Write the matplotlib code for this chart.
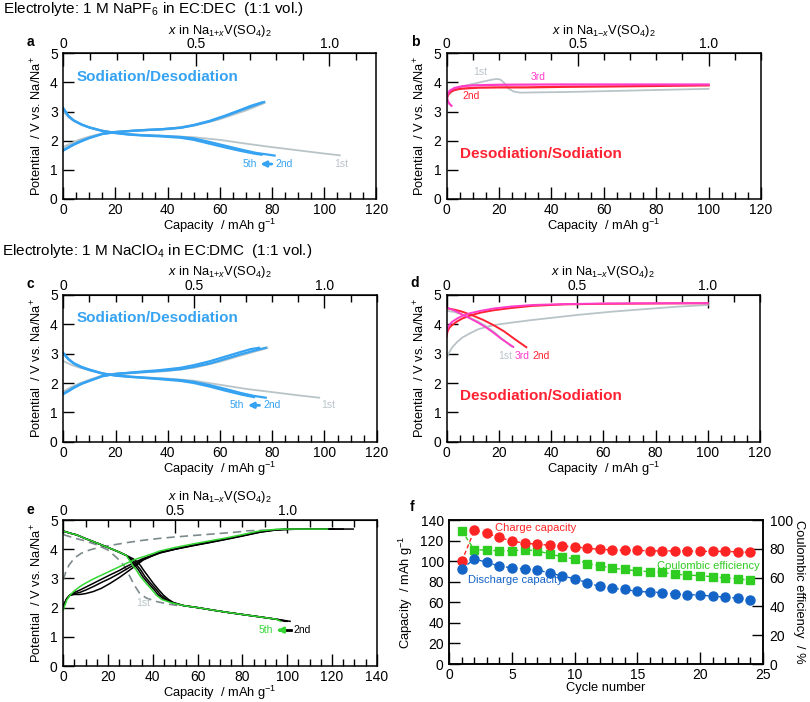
import matplotlib
matplotlib.use("Agg")
import matplotlib.pyplot as plt
from matplotlib.ticker import MultipleLocator

plt.rcParams["font.family"] = ["Liberation Sans", "DejaVu Sans"]
plt.rcParams["mathtext.fontset"] = "custom"
plt.rcParams["mathtext.rm"] = "Liberation Sans"
plt.rcParams["mathtext.it"] = "Liberation Sans:italic"
plt.rcParams["mathtext.bf"] = "Liberation Sans:bold"

# ---------------- data: panel a (NaPF6, sodiation first) ----------------
a_dis2_cap = [0, 2, 4, 7, 10, 15, 20, 25, 30, 37, 45, 50, 56, 62, 68, 74, 78, 81]
a_dis2_v = [3.12, 2.85, 2.70, 2.56, 2.46, 2.34, 2.27, 2.22, 2.19, 2.17, 2.13, 2.08, 1.96, 1.83, 1.70, 1.58, 1.53, 1.49]
a_dis5_cap = [0, 2, 4, 7, 10, 15, 20, 25, 30, 37, 45, 50, 56, 62, 68, 73, 76]
a_dis5_v = [3.10, 2.84, 2.69, 2.55, 2.45, 2.33, 2.26, 2.21, 2.18, 2.15, 2.10, 2.03, 1.90, 1.77, 1.65, 1.56, 1.52]
a_ch2_cap = [0, 2, 4, 7, 10, 15, 20, 25, 30, 37, 45, 50, 56, 62, 68, 73, 77]
a_ch2_v = [1.68, 1.78, 1.88, 2.00, 2.10, 2.24, 2.30, 2.33, 2.36, 2.39, 2.44, 2.53, 2.66, 2.84, 3.04, 3.20, 3.33]
a_ch5_cap = [0, 2, 4, 7, 10, 15, 20, 25, 30, 37, 45, 50, 56, 62, 68, 72, 76]
a_ch5_v = [1.66, 1.76, 1.86, 1.98, 2.09, 2.23, 2.29, 2.33, 2.36, 2.39, 2.45, 2.54, 2.68, 2.86, 3.06, 3.20, 3.31]
a_dis1_cap = [0, 2, 4, 7, 10, 15, 20, 30, 40, 50, 60, 70, 80, 90, 100, 106]
a_dis1_v = [3.00, 2.80, 2.68, 2.55, 2.46, 2.35, 2.28, 2.20, 2.16, 2.12, 2.03, 1.90, 1.78, 1.67, 1.56, 1.50]
a_ch1_cap = [0, 3, 6, 10, 15, 20, 30, 40, 50, 60, 70, 77]
a_ch1_v = [1.78, 1.90, 2.02, 2.13, 2.24, 2.30, 2.36, 2.40, 2.52, 2.75, 3.05, 3.30]

# ---------------- data: panel b (NaPF6, desodiation first) ----------------
b_1_cap = [0, 1, 2.5, 5, 7.5, 10, 14, 17, 19, 20.5, 22, 23.5, 25.5, 28, 35, 45, 60, 80, 100]
b_1_v = [3.45, 3.60, 3.72, 3.84, 3.90, 3.95, 4.03, 4.09, 4.12, 4.10, 3.98, 3.80, 3.69, 3.65, 3.66, 3.67, 3.70, 3.74, 3.78]
b_2_cap = [0, 0.5, 1.5, 3, 5, 8, 12, 20, 30, 45, 60, 80, 100]
b_2_v = [3.45, 3.58, 3.68, 3.74, 3.78, 3.80, 3.82, 3.83, 3.83, 3.85, 3.86, 3.88, 3.90]
b_3_cap = [1.8, 1.0, 0.4, 0.1, 0.4, 1.2, 3, 6, 10, 20, 40, 60, 80, 100]
b_3_v = [3.20, 3.27, 3.37, 3.50, 3.62, 3.72, 3.81, 3.87, 3.90, 3.92, 3.93, 3.93, 3.93, 3.93]

# ---------------- data: panel c (NaClO4, sodiation first) ----------------
c_dis2_cap = [0, 2, 4, 7, 10, 15, 20, 25, 30, 37, 45, 50, 56, 62, 68, 73, 77.5]
c_dis2_v = [3.03, 2.82, 2.68, 2.55, 2.46, 2.33, 2.26, 2.22, 2.19, 2.15, 2.10, 2.04, 1.93, 1.80, 1.66, 1.56, 1.50]
c_dis5_cap = [0, 2, 4, 7, 10, 15, 20, 25, 30, 37, 45, 50, 56, 62, 68, 73]
c_dis5_v = [3.00, 2.80, 2.66, 2.53, 2.44, 2.32, 2.25, 2.21, 2.18, 2.13, 2.07, 2.00, 1.88, 1.74, 1.61, 1.52]
c_ch2_cap = [0, 2, 4, 7, 10, 15, 20, 25, 30, 37, 45, 50, 56, 62, 68, 73, 77.5]
c_ch2_v = [1.64, 1.74, 1.85, 1.98, 2.08, 2.24, 2.31, 2.34, 2.37, 2.41, 2.47, 2.55, 2.66, 2.82, 2.98, 3.10, 3.20]
c_ch5_cap = [0, 2, 4, 7, 10, 15, 20, 25, 30, 37, 45, 50, 56, 62, 68, 72, 75]
c_ch5_v = [1.62, 1.72, 1.83, 1.97, 2.07, 2.23, 2.31, 2.35, 2.39, 2.44, 2.52, 2.61, 2.74, 2.90, 3.06, 3.16, 3.20]
c_dis1_cap = [0, 3, 6, 10, 15, 20, 30, 40, 50, 60, 70, 80, 90, 98]
c_dis1_v = [2.75, 2.62, 2.53, 2.44, 2.33, 2.26, 2.20, 2.15, 2.08, 1.94, 1.80, 1.69, 1.58, 1.50]
c_ch1_cap = [0, 3, 6, 10, 15, 20, 30, 40, 50, 60, 70, 78]
c_ch1_v = [1.70, 1.85, 1.97, 2.10, 2.25, 2.31, 2.37, 2.42, 2.53, 2.74, 3.00, 3.20]

# ---------------- data: panel d (NaClO4, desodiation first) ----------------
d_ch1_cap = [0, 1, 2, 4, 6, 9, 12, 16, 20, 25, 32, 40, 50, 63, 76, 88, 100]
d_ch1_v = [2.85, 3.05, 3.20, 3.40, 3.55, 3.70, 3.83, 3.93, 4.00, 4.06, 4.14, 4.22, 4.32, 4.43, 4.52, 4.60, 4.66]
d_dis1_cap = [0, 3, 6, 9, 12, 15, 18, 21, 24.8]
d_dis1_v = [4.46, 4.42, 4.33, 4.22, 4.10, 3.94, 3.75, 3.52, 3.25]
d_ch_cap = [0, 0.3, 1, 2, 4, 6, 9, 13, 18, 25, 33, 45, 60, 80, 100]
d_ch2_v = [3.60, 3.75, 3.88, 3.97, 4.10, 4.20, 4.30, 4.40, 4.48, 4.56, 4.63, 4.68, 4.70, 4.71, 4.72]
d_ch3_v = [3.70, 3.85, 3.98, 4.08, 4.20, 4.29, 4.38, 4.46, 4.54, 4.61, 4.66, 4.69, 4.71, 4.72, 4.72]
d_dis2_cap = [0, 3, 6, 10, 14, 18, 22, 26, 30.5]
d_dis2_v = [4.55, 4.50, 4.43, 4.30, 4.15, 3.97, 3.76, 3.50, 3.22]
d_dis3_cap = [0, 3, 6, 9, 12, 15, 18, 21, 25.5]
d_dis3_v = [4.57, 4.47, 4.33, 4.20, 4.06, 3.90, 3.71, 3.50, 3.23]

# ---------------- data: panel e (desodiation, wide window) ----------------
e_ch_cap = [0, 1.5, 3, 5, 7.4, 10, 13.4, 17, 20.9, 25, 28.3, 32.8, 35.7, 40, 43.2, 50, 58, 65, 73, 80, 87.9, 95, 100, 110]
e_ch2_v = [2.09, 2.30, 2.42, 2.45, 2.45, 2.48, 2.55, 2.66, 2.83, 3.03, 3.21, 3.46, 3.63, 3.78, 3.87, 4.00, 4.12, 4.22, 4.34, 4.45, 4.58, 4.66, 4.68, 4.69]
e_ch3_v = [2.02, 2.30, 2.43, 2.48, 2.52, 2.60, 2.72, 2.86, 3.00, 3.17, 3.32, 3.52, 3.65, 3.78, 3.88, 4.00, 4.13, 4.23, 4.35, 4.46, 4.59, 4.66, 4.68, 4.69]
e_ch4_v = [1.98, 2.30, 2.44, 2.52, 2.60, 2.70, 2.83, 2.97, 3.12, 3.27, 3.41, 3.58, 3.68, 3.80, 3.90, 4.01, 4.14, 4.24, 4.36, 4.47, 4.60, 4.67, 4.68, 4.69]
e_ch5_v = [1.92, 2.25, 2.43, 2.58, 2.72, 2.84, 2.98, 3.11, 3.25, 3.40, 3.52, 3.67, 3.74, 3.85, 3.94, 4.06, 4.18, 4.28, 4.39, 4.50, 4.63, 4.68, 4.69, 4.69]
e_ch_end = [129.5, 125, 121, 118]
e_dis2_cap = [0, 3, 6, 10, 13.4, 17, 20.9, 25, 28.3, 31, 32.8, 34.5, 35.7, 38, 40.2, 42.5, 44.7, 47, 49.2, 53.6, 60, 65.5, 73, 80.4, 88, 95.3, 101.3]
e_dis3_cap = [0, 3, 6, 10, 13.4, 17, 20.9, 25, 28.3, 30, 31.5, 33, 34.5, 36.5, 39, 41.5, 43.5, 46, 49.2, 53.6, 60, 65.5, 73, 80.4, 88, 95.3, 100]
e_dis4_cap = [0, 3, 6, 10, 13.4, 17, 20.9, 25, 28.3, 29.5, 30.5, 32, 33.5, 35.5, 38, 40.5, 42.5, 45, 48.5, 53.6, 60, 65.5, 73, 80.4, 88, 95.3, 99]
e_dis5_cap = [0, 3, 6, 10, 13.4, 17, 20.9, 25, 28.3, 29, 30, 31, 32.5, 34.5, 37, 39.5, 41.5, 44, 48, 53.6, 60, 65.5, 73, 80.4, 88, 95.3, 97]
e_dis_v = [4.62, 4.55, 4.49, 4.36, 4.26, 4.15, 4.03, 3.90, 3.78, 3.68, 3.58, 3.44, 3.30, 3.06, 2.83, 2.62, 2.43, 2.28, 2.17, 2.07, 2.00, 1.93, 1.84, 1.76, 1.68, 1.60, 1.53]
e_ch1_cap = [0, 1, 2.5, 5, 8, 12, 16, 21, 28, 35, 43, 50, 60, 70, 78, 82, 90, 100]
e_ch1_v = [2.95, 3.20, 3.45, 3.70, 3.86, 3.98, 4.06, 4.13, 4.22, 4.30, 4.37, 4.42, 4.48, 4.54, 4.59, 4.63, 4.65, 4.66]
e_dis1_cap = [0, 5, 10, 15, 20, 24, 27, 29.5, 31.5, 34, 37, 42, 47, 52]
e_dis1_v = [4.50, 4.38, 4.28, 4.15, 3.97, 3.70, 3.45, 3.10, 2.80, 2.50, 2.33, 2.20, 2.12, 2.06]

# ---------------- data: panel f (cycling) ----------------
cycles = list(range(1, 25))
charge_cap = [100, 130, 127, 123, 119.5, 117.5, 116.5, 115.5, 114.5, 114, 112.5, 111.5,
              111, 110.5, 110.5, 110, 110, 110, 110, 109.5, 109.5, 109.5, 109, 108.5]
discharge_cap = [92.5, 102, 99, 95, 93.5, 92.5, 91.5, 88.5, 85.5, 83, 79, 75.5,
                 73.5, 72.5, 70.5, 70, 69.5, 68, 67.5, 67, 66, 65, 64, 62.5]
coulombic_eff = [92.4, 79.2, 79.2, 78.5, 78.7, 79.2, 78.7, 76.4, 74.5, 72.9, 69.7, 68.3,
                 66.4, 65.7, 64.6, 64.1, 63.7, 62.3, 61.8, 61.3, 60.6, 59.7, 59.0, 58.3]

# ---------------- colours ----------------
BLUE = "#36a3f2"
GRAY = "#b9c4c8"
RED = "#ff2233"
MAG = "#ff3cc8"
GREEN = "#33d633"
DGRAY = "#7d8a8d"
F_RED = "#ff2424"
F_BLUE = "#1464c8"
F_GREEN = "#2fcc22"

W, H = 810, 702
fig = plt.figure(figsize=(W / 100, H / 100), dpi=100)


def px_axes(left, top, right, bottom):
    return fig.add_axes([left / W, 1 - bottom / H, (right - left) / W, (bottom - top) / H])


def style_voltage(ax, xmax, cap_full, top_label):
    ax.set_xlim(0, xmax)
    ax.set_ylim(0, 5)
    ax.xaxis.set_major_locator(MultipleLocator(20))
    ax.xaxis.set_minor_locator(MultipleLocator(5))
    ax.yaxis.set_major_locator(MultipleLocator(1))
    ax.tick_params(axis="x", which="major", direction="in", length=9, width=1, pad=3, labelsize=10)
    ax.tick_params(axis="x", which="minor", direction="in", length=5, width=1)
    ax.tick_params(axis="y", which="major", direction="in", length=8, width=1, pad=4, labelsize=10)
    for s in ax.spines.values():
        s.set_linewidth(1.1)
    ax.set_xlabel("Capacity  / mAh g$^{-1}$", fontsize=9.3, labelpad=0)
    ax.set_ylabel("Potential  / V vs. Na/Na$^{+}$", fontsize=9.3, labelpad=4)
    sec = ax.secondary_xaxis("top", functions=(lambda c: c / cap_full, lambda x: x * cap_full))
    sec.set_xticks([0, 0.5, 1.0])
    sec.set_xticklabels(["0", "0.5", "1.0"])
    sec.xaxis.set_minor_locator(MultipleLocator(0.1))
    sec.tick_params(axis="x", which="major", direction="in", length=9, width=1, pad=1.5, labelsize=10)
    sec.tick_params(axis="x", which="minor", direction="in", length=5, width=1)
    sec.set_xlabel(top_label, fontsize=9.3, labelpad=2.5)
    return sec


top_plus = r"$x$ in Na$_{1\mathrm{+}x}$V(SO$_4$)$_2$"
top_minus = r"$x$ in Na$_{1\mathrm{-}x}$V(SO$_4$)$_2$"
BIG = 11
SMALL = 7.5

# ---------------- panel a ----------------
ax = px_axes(63.3, 53.3, 376.3, 199)
style_voltage(ax, 120, 102, top_plus)
ax.plot(a_dis1_cap, a_dis1_v, color=GRAY, lw=1.3)
ax.plot(a_ch1_cap, a_ch1_v, color=GRAY, lw=1.8)
ax.plot(a_dis2_cap, a_dis2_v, color=BLUE, lw=1.6)
ax.plot(a_dis5_cap, a_dis5_v, color=BLUE, lw=1.6)
ax.plot(a_ch2_cap, a_ch2_v, color=BLUE, lw=1.6)
ax.plot(a_ch5_cap, a_ch5_v, color=BLUE, lw=1.6)
ax.text(5, 4.2, "Sodiation/Desodiation", color=BLUE, fontsize=BIG, fontweight="bold", va="center")
ax.text(71.5, 1.2, "5th", color=BLUE, fontsize=SMALL, ha="center", va="center")
ax.annotate("", xy=(74.5, 1.2), xytext=(81, 1.2),
            arrowprops=dict(arrowstyle="-|>", color=BLUE, lw=2, mutation_scale=8))
ax.text(81.3, 1.2, "2nd", color=BLUE, fontsize=SMALL, ha="left", va="center")
ax.text(106.5, 1.2, "1st", color=GRAY, fontsize=SMALL, ha="center", va="center")
fig.text(30 / W, 1 - 42 / H, "a", fontsize=10, fontweight="bold", ha="center", va="center")

# ---------------- panel b ----------------
ax = px_axes(446.7, 53.3, 761, 199)
style_voltage(ax, 120, 100, top_minus)
ax.plot(b_1_cap, b_1_v, color=GRAY, lw=1.3)
ax.plot(b_2_cap, b_2_v, color=RED, lw=1.6)
ax.plot(b_3_cap, b_3_v, color=MAG, lw=1.6)
ax.text(5, 1.56, "Desodiation/Sodiation", color=RED, fontsize=BIG, fontweight="bold", va="center")
ax.text(12.7, 4.35, "1st", color=GRAY, fontsize=SMALL, ha="center", va="center")
ax.text(35, 4.2, "3rd", color=MAG, fontsize=SMALL, ha="center", va="center")
ax.text(9.5, 3.55, "2nd", color=RED, fontsize=SMALL, ha="center", va="center")
fig.text(415 / W, 1 - 42 / H, "b", fontsize=10, fontweight="bold", ha="center", va="center")

# ---------------- panel c ----------------
ax = px_axes(63.3, 295, 376.7, 441.7)
style_voltage(ax, 120, 100, top_plus)
ax.plot(c_dis1_cap, c_dis1_v, color=GRAY, lw=1.3)
ax.plot(c_ch1_cap, c_ch1_v, color=GRAY, lw=1.8)
ax.plot(c_dis2_cap, c_dis2_v, color=BLUE, lw=1.6)
ax.plot(c_dis5_cap, c_dis5_v, color=BLUE, lw=1.6)
ax.plot(c_ch2_cap, c_ch2_v, color=BLUE, lw=1.6)
ax.plot(c_ch5_cap, c_ch5_v, color=BLUE, lw=1.6)
ax.text(5, 4.22, "Sodiation/Desodiation", color=BLUE, fontsize=BIG, fontweight="bold", va="center")
ax.text(66.4, 1.24, "5th", color=BLUE, fontsize=SMALL, ha="center", va="center")
ax.annotate("", xy=(69.6, 1.24), xytext=(76.2, 1.24),
            arrowprops=dict(arrowstyle="-|>", color=BLUE, lw=2, mutation_scale=8))
ax.text(76.5, 1.24, "2nd", color=BLUE, fontsize=SMALL, ha="left", va="center")
ax.text(101.5, 1.24, "1st", color=GRAY, fontsize=SMALL, ha="center", va="center")
fig.text(30 / W, 1 - 284 / H, "c", fontsize=10, fontweight="bold", ha="center", va="center")

# ---------------- panel d ----------------
ax = px_axes(446.7, 295, 760, 441.7)
style_voltage(ax, 120, 100, top_minus)
ax.plot(d_ch1_cap, d_ch1_v, color=GRAY, lw=1.3)
ax.plot(d_dis1_cap, d_dis1_v, color=GRAY, lw=1.3)
ax.plot(d_ch_cap, d_ch2_v, color=RED, lw=1.4)
ax.plot(d_dis2_cap, d_dis2_v, color=RED, lw=1.4)
ax.plot(d_ch_cap, d_ch3_v, color=MAG, lw=1.4)
ax.plot(d_dis3_cap, d_dis3_v, color=MAG, lw=1.4)
ax.text(5, 1.56, "Desodiation/Sodiation", color=RED, fontsize=BIG, fontweight="bold", va="center")
ax.text(22.4, 2.93, "1st", color=GRAY, fontsize=SMALL, ha="center", va="center")
ax.text(28.8, 2.93, "3rd", color=MAG, fontsize=SMALL, ha="center", va="center")
ax.text(36, 2.93, "2nd", color=RED, fontsize=SMALL, ha="center", va="center")
fig.text(415 / W, 1 - 283 / H, "d", fontsize=10, fontweight="bold", ha="center", va="center")

# ---------------- panel e ----------------
ax = px_axes(63.3, 520, 376.7, 666)
style_voltage(ax, 140, 100, top_minus)
ax.plot(e_ch1_cap, e_ch1_v, color=DGRAY, lw=1.2, ls=(0, (5, 3)))
ax.plot(e_dis1_cap, e_dis1_v, color=DGRAY, lw=1.2, ls=(0, (5, 3)))
e_ch_v = [e_ch2_v, e_ch3_v, e_ch4_v, e_ch5_v]
e_dis_caps = [e_dis2_cap, e_dis3_cap, e_dis4_cap, e_dis5_cap]
for i in range(4):
    col = GREEN if i == 3 else "black"
    ax.plot(e_ch_cap + [e_ch_end[i]], e_ch_v[i] + [e_ch_v[i][-1]], color=col, lw=1.1)
    ax.plot(e_dis_caps[i], e_dis_v, color=col, lw=1.1)
ax.text(35.9, 2.17, "1st", color=GRAY, fontsize=SMALL, ha="center", va="center")
ax.text(90.6, 1.23, "5th", color=GREEN, fontsize=SMALL, ha="center", va="center")
ax.plot([97, 101.5], [1.23, 1.23], color="black", lw=2)
ax.annotate("", xy=(94.3, 1.23), xytext=(98, 1.23),
            arrowprops=dict(arrowstyle="-|>", color=GREEN, lw=2, mutation_scale=8))
ax.text(102.8, 1.23, "2nd", color="black", fontsize=SMALL, ha="left", va="center")
fig.text(30 / W, 1 - 510 / H, "e", fontsize=10, fontweight="bold", ha="center", va="center")

# ---------------- panel f ----------------
ax = px_axes(449.3, 520, 762.7, 664)
ax2 = ax.twinx()
ax2.plot(cycles, coulombic_eff, color=F_GREEN, marker="s", ms=6, lw=1, ls=(0, (3, 2)))
ax.set_zorder(ax2.get_zorder() + 1)
ax.patch.set_visible(False)
ax.plot(cycles, charge_cap, color=F_RED, marker="o", ms=6.5, lw=1, ls=(0, (3, 2)))
ax.plot(cycles, discharge_cap, color=F_BLUE, marker="o", ms=6.5, lw=1, ls=(0, (3, 2)))
ax.set_xlim(0, 25)
ax.set_ylim(0, 140)
ax2.set_ylim(0, 100)
ax.xaxis.set_major_locator(MultipleLocator(5))
ax.xaxis.set_minor_locator(MultipleLocator(1))
ax.yaxis.set_major_locator(MultipleLocator(20))
ax2.yaxis.set_major_locator(MultipleLocator(20))
ax.tick_params(axis="x", which="major", direction="in", length=9, width=1, pad=3, labelsize=10)
ax.tick_params(axis="x", which="minor", direction="in", length=5, width=1)
ax.tick_params(axis="y", direction="in", length=8, width=1, pad=4, labelsize=10)
ax2.tick_params(axis="y", direction="in", length=8, width=1, pad=5, labelsize=10)
for s in list(ax.spines.values()) + list(ax2.spines.values()):
    s.set_linewidth(1.1)
ax.set_xlabel("Cycle number", fontsize=9.3, labelpad=0)
ax.set_ylabel("Capacity  / mAh g$^{-1}$", fontsize=9.3, labelpad=4)
ax2.set_ylabel("Coulombic efficiency  / %", fontsize=9.3, rotation=270, labelpad=9)
ax.text(3.66, 132.5, "Charge capacity", color=F_RED, fontsize=8, va="center")
ax.text(1.52, 82, "Discharge capacity", color=F_BLUE, fontsize=8, va="center")
ax.text(24.8, 95.6, "Coulombic efficiency", color=F_GREEN, fontsize=8, ha="right", va="center")
fig.text(412 / W, 1 - 507 / H, "f", fontsize=10, fontweight="bold", ha="center", va="center")

# ---------------- section titles ----------------
fig.text(3 / W, 1 - 9 / H, "Electrolyte: 1 M NaPF$_6$ in EC:DEC  (1:1 vol.)", fontsize=11, va="center")
fig.text(2 / W, 1 - 251 / H, "Electrolyte: 1 M NaClO$_4$ in EC:DMC  (1:1 vol.)", fontsize=11, va="center")

fig.savefig("out.png", dpi=100)
